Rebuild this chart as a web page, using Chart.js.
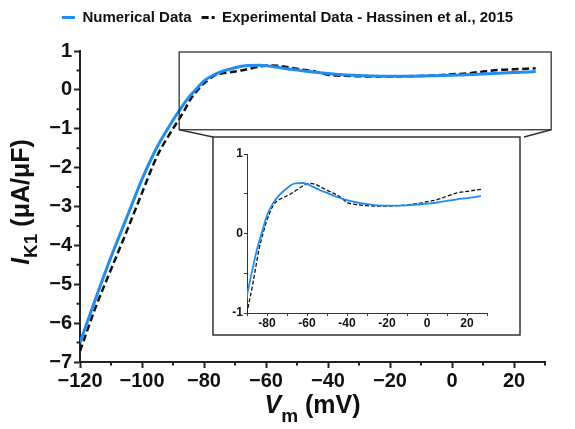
<!DOCTYPE html>
<html><head><meta charset="utf-8">
<script src="https://cdn.jsdelivr.net/npm/chart.js@4.4.1/dist/chart.umd.min.js"></script>
<style>
html,body{margin:0;padding:0;background:#fff;}
#wrap{position:relative;width:575px;height:429px;overflow:hidden;}
#main{position:absolute;left:0;top:0;}
#inset{position:absolute;left:213px;top:137px;}
</style></head><body>
<div id="wrap"><canvas id="main" width="575" height="429"></canvas><canvas id="inset" width="307" height="198"></canvas></div>
<script>
// ---- data ----
const numV = [-120,-115,-110,-105,-100,-95,-90,-87,-85,-82,-80,-77,-74,-70,-66,-62,-58,-54,-50,-45,-40,-35,-30,-25,-20,-15,-10,-5,0,5,10,15,20,27];
const numI = [-6.5,-5.38,-4.3,-3.3,-2.3,-1.45,-0.78,-0.42,-0.2,0.06,0.23,0.38,0.48,0.57,0.63,0.635,0.6,0.55,0.51,0.46,0.42,0.39,0.37,0.355,0.35,0.35,0.355,0.365,0.375,0.39,0.41,0.43,0.445,0.47];
const expV = [-120,-115,-110,-105,-100,-95,-90,-87,-84,-82,-80,-77,-75,-72,-68,-65,-62,-59,-56,-52,-48,-44,-40,-37,-30,-25,-20,-15,-10,-5,0,5,10,15,20,27];
const expI = [-6.72,-5.6,-4.62,-3.65,-2.65,-1.68,-1.0,-0.62,-0.2,0.0,0.17,0.35,0.41,0.45,0.5,0.55,0.6,0.63,0.62,0.57,0.52,0.47,0.39,0.37,0.35,0.345,0.345,0.35,0.36,0.375,0.4,0.425,0.47,0.51,0.53,0.555];
const mainXTicks = [-120,-100,-80,-60,-40,-20,0,20];
const mainYTicks = [-7,-6,-5,-4,-3,-2,-1,0,1];
const mainXMinor = [-110,-90,-70,-50,-30,-10,10,30];
const mainYMinor = [-6.5,-5.5,-4.5,-3.5,-2.5,-1.5,-0.5,0.5];
const insetXTicks = [-90,-80,-70,-60,-50,-40,-30,-20,-10,0,10,20,30];
const insetXLabels = [-80,-60,-40,-20,0,20];
const insetYTicks = [-1,-0.5,0,0.5,1];
const insetYLabels = [-1,0,1];
const zoomBox = {x0:-88, x1:32, y0:-1, y1:1};
const seriesNames = ['Numerical Data','Experimental Data - Hassinen et al., 2015'];

// ---- styles ----
const FONT = "'Liberation Sans', Arial, Helvetica, sans-serif";
const AX = '#222';
const BLUE = '#1E8EF5';
const BLACK = '#111';
const toPts = (xs, ys) => xs.map((x, i) => ({x: x, y: ys[i]}));
const fmt = v => v < 0 ? '\u2212' + Math.abs(v) : String(v);
const legendDash = [[], [7, 3]];

const INSET = {left:213, top:137, right:520, bottom:335};

function drawSegs(ctx, segs, cx, baseY) {
  let total = 0;
  segs.forEach(s => { ctx.font = s.font; s.w = ctx.measureText(s.t).width; total += s.w; });
  let x = cx - total / 2;
  segs.forEach(s => { ctx.font = s.font; ctx.fillText(s.t, x, baseY + (s.dy || 0)); x += s.w; });
}

// give the legend box extra height below its row so the plot starts lower
const legendSpace = {
  id: 'legendSpace',
  beforeLayout(chart) {
    const lg = chart.legend;
    if (lg && !lg._spaced) {
      const f = lg.fit.bind(lg);
      lg.fit = function () { f(); this.height = 51; };
      lg._spaced = true;
    }
  }
};

const decor = {
  id: 'decor',
  afterDraw(chart) {
    const ctx = chart.ctx, xs = chart.scales.x, ys = chart.scales.y, ca = chart.chartArea;
    ctx.save();
    // minor ticks
    ctx.strokeStyle = AX; ctx.lineWidth = 2;
    ctx.beginPath();
    mainXMinor.forEach(v => { const p = xs.getPixelForValue(v); ctx.moveTo(p, ca.bottom); ctx.lineTo(p, ca.bottom + 3.5); });
    mainYMinor.forEach(v => { const p = ys.getPixelForValue(v); ctx.moveTo(ca.left, p); ctx.lineTo(ca.left - 3.5, p); });
    ctx.stroke();
    // zoom rectangle + connectors + inset frame
    const rx0 = xs.getPixelForValue(zoomBox.x0), rx1 = xs.getPixelForValue(zoomBox.x1);
    const ry0 = ys.getPixelForValue(zoomBox.y1), ry1 = ys.getPixelForValue(zoomBox.y0);
    ctx.strokeStyle = '#333'; ctx.lineWidth = 1.3;
    ctx.strokeRect(rx0, ry0 + 1, rx1 - rx0, ry1 - ry0);
    ctx.beginPath();
    ctx.moveTo(rx0, ry1 + 1); ctx.lineTo(INSET.left, INSET.top);
    ctx.moveTo(rx1, ry1 + 1); ctx.lineTo(INSET.right + 4, INSET.top);
    ctx.stroke();
    ctx.lineWidth = 1.5;
    ctx.strokeRect(INSET.left, INSET.top, INSET.right - INSET.left, INSET.bottom - INSET.top);
    // axis titles
    ctx.fillStyle = BLACK; ctx.textBaseline = 'alphabetic'; ctx.textAlign = 'left';
    drawSegs(ctx, [
      {t:'V', font:'italic bold 25px ' + FONT},
      {t:'m', font:'bold 19px ' + FONT, dy: 9},
      {t:' (mV)', font:'bold 25px ' + FONT}
    ], 312.5, 413);
    ctx.translate(29, 202);
    ctx.rotate(-Math.PI / 2);
    drawSegs(ctx, [
      {t:'I', font:'italic bold 25px ' + FONT},
      {t:'K1', font:'bold 19px ' + FONT, dy: 8},
      {t:' (\u03BCA/\u03BCF)', font:'bold 25px ' + FONT}
    ], 0, 0);
    ctx.restore();
  }
};

new Chart(document.getElementById('main'), {
  type: 'line',
  data: { datasets: [
    {label: seriesNames[0], data: toPts(numV, numI), borderColor: BLUE, backgroundColor: BLUE,
     borderWidth: 3, pointRadius: 0, cubicInterpolationMode: 'monotone', fill: false},
    {label: seriesNames[1], data: toPts(expV, expI), borderColor: BLACK, backgroundColor: BLACK,
     borderWidth: 2.5, borderDash: [7, 3.5], pointRadius: 0, cubicInterpolationMode: 'monotone', fill: false}
  ]},
  options: {
    responsive: false, animation: false, devicePixelRatio: 1,
    layout: {padding: {left: 0, right: 0, top: 0, bottom: 0}},
    plugins: {
      legend: {display: true, position: 'top',
        labels: {usePointStyle: true, pointStyle: 'line', pointStyleWidth: 13, color: BLACK, padding: 10,
                 font: {family: FONT, size: 15, weight: 'bold'},
                 generateLabels: chart => Chart.defaults.plugins.legend.labels.generateLabels(chart).map((it, i) => {
                   it.lineDash = legendDash[i]; it.lineWidth = 3;
                   it.strokeStyle = chart.data.datasets[i].borderColor; it.fillStyle = it.strokeStyle;
                   return it; })}},
      tooltip: {enabled: false}
    },
    scales: {
      x: {type: 'linear', min: -120, max: 30,
        afterBuildTicks: s => { s.ticks = mainXTicks.map(v => ({value: v})); },
        afterFit: s => { s.height = 67; s.paddingRight = 30; },
        ticks: {callback: v => fmt(v), color: BLACK, padding: 1, maxRotation: 0, autoSkip: false,
                font: {family: FONT, size: 20, weight: 'bold'}},
        grid: {drawOnChartArea: false, drawTicks: true, tickLength: 6, tickWidth: 2, tickColor: AX},
        border: {display: true, color: AX, width: 2}},
      y: {type: 'linear', min: -7, max: 1,
        afterBuildTicks: s => { s.ticks = mainYTicks.map(v => ({value: v})); },
        afterFit: s => { s.width = 80; },
        ticks: {callback: v => fmt(v), color: BLACK, padding: 2, autoSkip: false,
                font: {family: FONT, size: 20, weight: 'bold'}},
        grid: {drawOnChartArea: false, drawTicks: true, tickLength: 6, tickWidth: 2, tickColor: AX},
        border: {display: true, color: AX, width: 2}}
    }
  },
  plugins: [legendSpace, decor]
});

new Chart(document.getElementById('inset'), {
  type: 'line',
  data: { datasets: [
    {label: seriesNames[0], data: toPts(numV, numI), borderColor: BLUE, borderWidth: 1.8, pointRadius: 0,
     cubicInterpolationMode: 'monotone', fill: false},
    {label: seriesNames[1], data: toPts(expV, expI), borderColor: BLACK, borderWidth: 1.3, borderDash: [4, 2],
     pointRadius: 0, cubicInterpolationMode: 'monotone', fill: false}
  ]},
  options: {
    responsive: false, animation: false, devicePixelRatio: 1,
    layout: {padding: {left: 0, right: 33, top: 0, bottom: 0}},
    plugins: {legend: {display: false}, tooltip: {enabled: false}},
    scales: {
      x: {type: 'linear', min: -90, max: 30,
        afterBuildTicks: s => { s.ticks = insetXTicks.map(v => ({value: v})); },
        afterFit: s => { s.height = 22; },
        ticks: {callback: v => insetXLabels.includes(v) ? String(v) : '', color: BLACK, padding: 0,
                maxRotation: 0, autoSkip: false, font: {family: FONT, size: 12, weight: 'bold'}},
        grid: {drawOnChartArea: false, drawTicks: true, tickLength: 3, tickWidth: 1, tickColor: '#333'},
        border: {display: true, color: '#333', width: 1}},
      y: {type: 'linear', min: -1, max: 1,
        afterBuildTicks: s => { s.ticks = insetYTicks.map(v => ({value: v})); },
        afterFit: s => { s.width = 34; s.paddingTop = 17; },
        ticks: {callback: v => insetYLabels.includes(v) ? String(v) : '', color: BLACK, padding: 1,
                autoSkip: false, font: {family: FONT, size: 12, weight: 'bold'}},
        grid: {drawOnChartArea: false, drawTicks: true, tickLength: 3, tickWidth: 1, tickColor: '#333'},
        border: {display: true, color: '#333', width: 1}}
    }
  }
});
</script>
</body></html>
